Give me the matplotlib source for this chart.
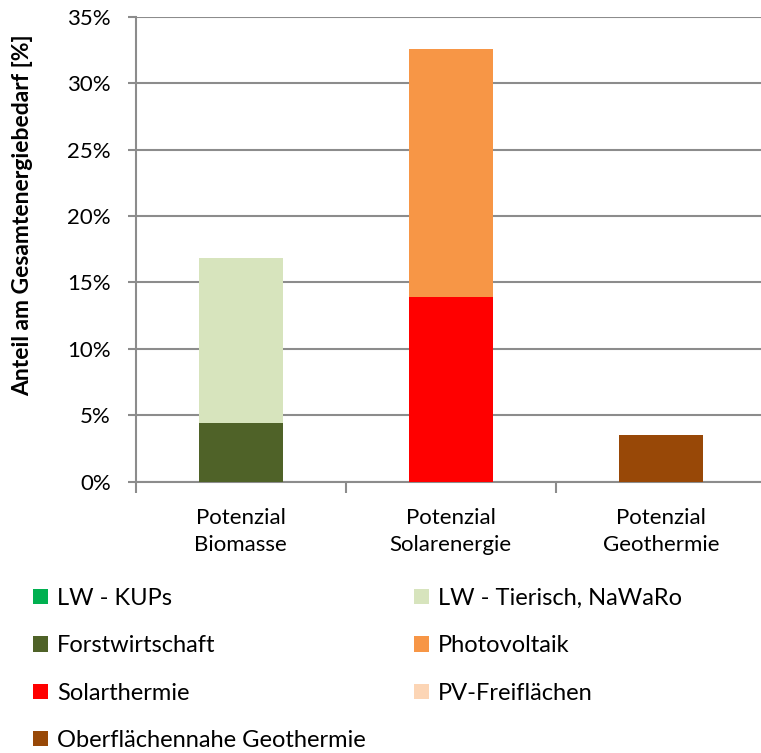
import matplotlib.pyplot as plt
from matplotlib.patches import Patch
from matplotlib.ticker import PercentFormatter
import numpy as np

plt.rcParams['font.family'] = ['Lato', 'DejaVu Sans']

# Kategorien und Anteile (in %) je Quelle
categories = ['Potenzial\nBiomasse', 'Potenzial\nSolarenergie', 'Potenzial\nGeothermie']
series = ['LW - KUPs', 'Forstwirtschaft', 'LW - Tierisch, NaWaRo',
          'Solarthermie', 'Photovoltaik', 'PV-Freiflächen',
          'Oberflächennahe Geothermie']
lw_kups      = [0.0, 0.0, 0.0]
forst        = [4.42, 0.0, 0.0]
lw_tierisch  = [12.42, 0.0, 0.0]
solarthermie = [0.0, 13.93, 0.0]
photovoltaik = [0.0, 18.65, 0.0]
pv_frei      = [0.0, 0.0, 0.0]
geothermie   = [0.0, 0.0, 3.52]

values = [lw_kups, forst, lw_tierisch, solarthermie, photovoltaik, pv_frei, geothermie]
colors = ['#00b050', '#4f6228', '#d7e4bd', '#ff0000', '#f79646', '#fcd5b5', '#984807']

fig = plt.figure(figsize=(7.61, 7.53), dpi=100)
ax = fig.add_axes([0.1783, 0.3603, 0.828, 0.6173])

x = np.arange(len(categories))
bottom = np.zeros(len(categories))
for vals, col in zip(values, colors):
    ax.bar(x, vals, width=0.4, bottom=bottom, color=col, zorder=3)
    bottom += np.array(vals)

grid_c = '#8c8c8c'
ax.set_xlim(-0.5, 2.5)
ax.set_ylim(0, 35)
ax.set_yticks(np.arange(0, 36, 5))
ax.yaxis.set_major_formatter(PercentFormatter(decimals=0))
ax.yaxis.grid(True, color=grid_c, lw=1.5, zorder=0)
ax.set_xticks([-0.5, 0.5, 1.5, 2.5])
ax.set_xticklabels([])
ax.set_xticks(x, minor=True)
ax.set_xticklabels(categories, minor=True, fontsize=16, linespacing=1.45)
ax.tick_params(axis='x', which='minor', length=0, pad=19)
ax.tick_params(axis='x', which='major', length=8, width=1.5, color=grid_c)
ax.tick_params(axis='y', length=6, width=1.5, color=grid_c, labelsize=16, pad=12)
for s in ['top', 'right']:
    ax.spines[s].set_visible(False)
for s in ['left', 'bottom']:
    ax.spines[s].set_color(grid_c)
    ax.spines[s].set_linewidth(1.5)

ax.set_ylabel('Anteil am Gesamtenergiebedarf [%]', fontsize=16.5,
              fontweight='bold', va='center')
ax.yaxis.set_label_coords(-0.18, 0.574)

# Legende: zwei Spalten, spaltenweise befuellt
order = [0, 1, 3, 6, 2, 4, 5]
handles = [Patch(facecolor=colors[i], edgecolor='none') for i in order]
labels = [series[i] for i in order]
fig.legend(handles, labels, loc='upper left', bbox_to_anchor=(0.031, 0.232),
           ncol=2, frameon=False, fontsize=17, handlelength=0.62,
           handleheight=0.62, handletextpad=0.4, labelspacing=1.12,
           columnspacing=2.05, borderaxespad=0)

fig.savefig('out.png', dpi=100)
